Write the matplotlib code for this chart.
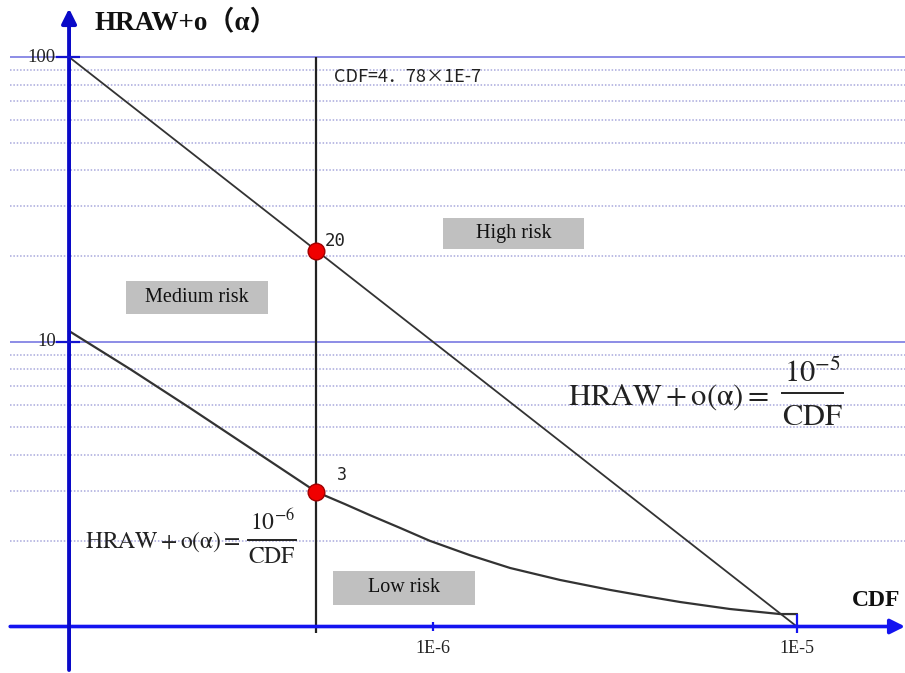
import matplotlib.pyplot as plt
from matplotlib.patches import Rectangle
from matplotlib.lines import Line2D

# data
cdf_upper = [1e-7, 1e-5]
hraw_upper = [100, 1]

cdf_lower = [1e-7, 1.471e-7, 2.151e-7, 3.143e-7, 4.78e-7, 5.733e-7, 6.717e-7, 8.12e-7,
             9.8e-7, 1.264e-6, 1.63e-6, 2.235e-6, 3.07e-6, 3.95e-6, 4.78e-6, 6.55e-6,
             8.99e-6, 1e-5]
hraw_lower = [10.91, 8.02, 5.85, 4.24, 2.97, 2.69, 2.46, 2.22,
              2.0, 1.78, 1.605, 1.457, 1.344, 1.27, 1.219, 1.152,
              1.106, 1.106]

cdf_point = [4.78e-7, 4.78e-7]
hraw_point = [20.9, 2.97]
point_labels = ['20', '3']

xtick_vals = [1e-6, 1e-5]
xtick_labels = ['1E-6', '1E-5']
ytick_vals = [10, 100]
ytick_labels = ['10', '100']
minor_vals = [m * d for d in (1, 10) for m in range(2, 10)]

plt.rcParams['mathtext.fontset'] = 'stix'
serif = 'Liberation Serif'

W, H = 905, 673
fig = plt.figure(figsize=(9.05, 6.73), dpi=100)
ax = fig.add_axes([0, 0, 1, 1])
ax.set_xscale('log')
ax.set_yscale('log')
ax.set_xlim(6.46e-8, 1.983e-5)
ax.set_ylim(0.6866, 158.6)
ax.axis('off')

x_left = 6.89e-8
x_right = 1.983e-5

# grid
ax.hlines(minor_vals, x_left, x_right, colors='#a8a8dc', linestyles=(0, (1.0, 1.2)), lw=1.1, zorder=1)
ax.hlines(ytick_vals, x_left, x_right, colors='#8c8ce6', lw=1.4, zorder=1)

# curves
ax.plot(cdf_upper, hraw_upper, color='#333333', lw=1.3, zorder=3)
ax.plot(cdf_lower, hraw_lower, color='#333333', lw=1.6, zorder=3, solid_joinstyle='round')
ax.vlines(cdf_point[0], 0.949, 100, colors='#222222', lw=1.6, zorder=3)

# axes with arrows
ax.annotate('', xy=(x_right, 1), xytext=(x_left, 1),
            arrowprops=dict(arrowstyle='-|>', color='#1414f0', lw=2.6, mutation_scale=22, shrinkA=0, shrinkB=0), zorder=4)
ax.annotate('', xy=(1e-7, 148), xytext=(1e-7, 0.7034),
            arrowprops=dict(arrowstyle='-|>', color='#0a0ac8', lw=2.8, mutation_scale=22, shrinkA=0, shrinkB=0), zorder=4)

# ticks
for v, lab in zip(xtick_vals, xtick_labels):
    ax.vlines(v, 0.965 if v == 1e-6 else 0.95, 1.04 if v == 1e-6 else 1.106, colors='#1414f0', lw=1.6, zorder=4)
    ax.text(v, 0.84, lab, ha='center', va='center', fontsize=13, family=serif, color='#222222')
for v, lab in zip(ytick_vals, ytick_labels):
    ax.hlines(v, 9.2e-8, 1.07e-7, colors='#1414d0', lw=1.6, zorder=4)
    ax.text(9.2e-8, v, lab, ha='right', va='center', fontsize=13.5, family=serif, color='#222222')

# critical points
ax.plot(cdf_point, hraw_point, 'o', ms=12, mfc='#f00000', mec='#a00000', mew=1, zorder=5)
ax.text(5.05e-7, 22.6, point_labels[0], fontsize=12.5, family='DejaVu Sans Mono', color='#222222', va='center')
ax.text(5.45e-7, 3.4, point_labels[1], fontsize=12, family='DejaVu Sans Mono', color='#222222', va='center')

ax.text(5.35e-7, 85, 'CDF=4．78×1E-7', fontsize=13, va='center',
        family=['Noto Sans CJK SC', 'DejaVu Sans'], color='#222222')

# risk boxes
boxes = [((443, 218, 584, 249), 'High risk'),
         ((126, 281, 268, 314), 'Medium risk'),
         ((333, 571, 475, 605), 'Low risk')]
for (x0, y0, x1, y1), lab in boxes:
    r = Rectangle((x0, H - y1), x1 - x0, y1 - y0, transform=None, facecolor='#c0c0c0',
                  edgecolor='none', zorder=2)
    fig.patches.append(r)
    fig.text((x0 + x1) / 2 / W, 1 - (y0 + y1) / 2 / H, lab, ha='center', va='center',
             fontsize=14.5, family=serif, color='#111111', zorder=3)

# axis titles
fig.text(94 / W, 1 - 22 / H, 'HRAW+o（α）', fontsize=19.5, fontweight='bold',
         family=[serif, 'Noto Sans CJK SC'], va='center', ha='left', color='#111111')
fig.text(852 / W, 1 - 601 / H, 'CDF', fontsize=17, fontweight='bold',
         family=serif, va='center', ha='left', color='#111111')


def formula(x0, base, exp_txt, size, frac_x0, frac_x1, num_base, bar_y, den_base):
    # left-hand side, numerator, fraction bar and denominator, positions in pixels
    fig.text(x0 / W, 1 - base / H, r'$\mathrm{HRAW}+\mathrm{o(α)}=$', fontsize=size,
             ha='left', va='baseline', color='#222222')
    xc = (frac_x0 + frac_x1) / 2 / W
    fig.text(xc, 1 - num_base / H, r'$10^{' + exp_txt + '}$', fontsize=size,
             ha='center', va='baseline', color='#222222')
    fig.text(xc, 1 - den_base / H, r'$\mathrm{CDF}$', fontsize=size,
             ha='center', va='baseline', color='#222222')
    fig.lines.append(Line2D([frac_x0 / W, frac_x1 / W], [1 - bar_y / H, 1 - bar_y / H],
                            transform=fig.transFigure, color='#222222', lw=1.4))


formula(568, 405, '-5', 22, 782, 843, 382, 393, 425)
formula(85, 548, '-6', 17, 248, 296, 530, 540, 563)

fig.savefig('out.png', dpi=100)
